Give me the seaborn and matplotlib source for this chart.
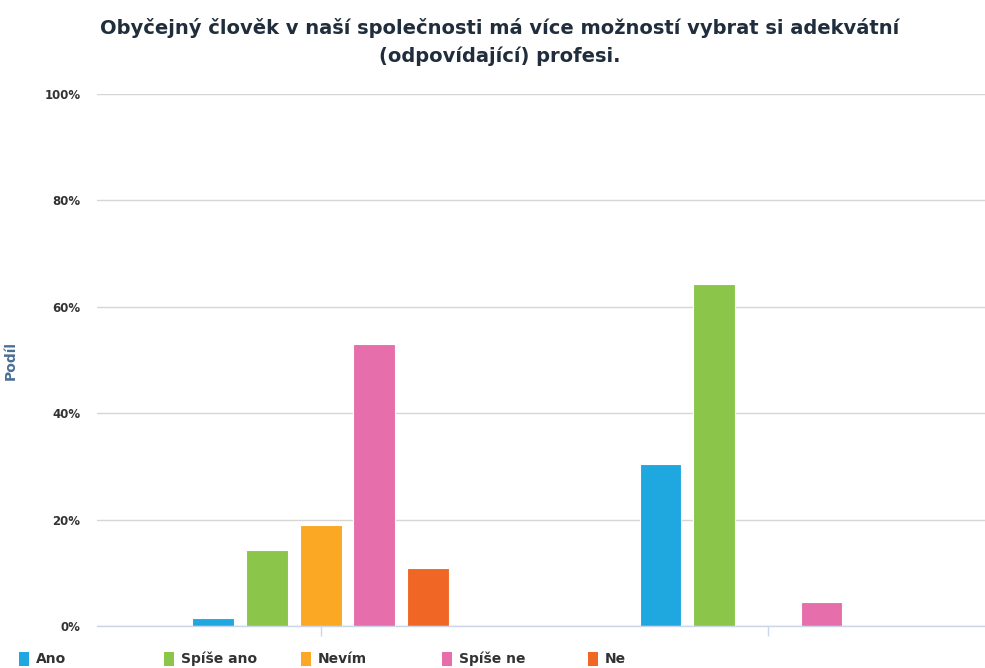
import matplotlib
matplotlib.use("Agg")
import matplotlib.pyplot as plt
import seaborn as sns
import pandas as pd
from matplotlib.patches import Patch

# answer categories and the two (unlabelled) groups
answers = ["Ano", "Spíše ano", "Nevím", "Spíše ne", "Ne"]
groups = ["Skupina 1", "Skupina 2"]
share_g1 = [1.5, 14.3, 19.0, 53.0, 10.9]
share_g2 = [30.5, 64.2, 0.0, 4.5, 0.0]
colors = ["#1fa8e0", "#8bc54a", "#fba824", "#e66fab", "#f06725"]
yticks = [0, 20, 40, 60, 80, 100]

df = pd.DataFrame({
    "skupina": [groups[0]] * 5 + [groups[1]] * 5,
    "odpoved": answers * 2,
    "podil": share_g1 + share_g2,
})

sns.set_style("white")
plt.rcParams["font.family"] = ["DejaVu Sans"]

fig = plt.figure(figsize=(9.85, 6.68), dpi=100)
ax = fig.add_axes([97 / 985, 1 - 626 / 668, (991.5 - 97) / 985, (626 - 94) / 668])

sns.barplot(data=df, x="skupina", y="podil", hue="odpoved", hue_order=answers,
            palette=colors, saturation=1, width=0.6, gap=0.22, edgecolor="white",
            linewidth=0.8, legend=False, ax=ax)

ax.set_xlim(-0.5, 1.5)
ax.set_ylim(0, 100)
ax.set_yticks(yticks)
ax.set_yticklabels([f"{v}%" for v in yticks], fontsize=8.5, fontweight="bold", color="#333333")
ax.yaxis.grid(True, color="#d6d6d6", linewidth=1)
ax.set_axisbelow(True)
for s in ["top", "right", "left"]:
    ax.spines[s].set_visible(False)
ax.spines["bottom"].set_color("#ccd6eb")
ax.spines["bottom"].set_linewidth(1)
ax.tick_params(axis="y", length=0, pad=12)
ax.tick_params(axis="x", direction="out", length=7, width=1, color="#ccd6eb",
               bottom=True, labelbottom=False)
ax.set_xlabel("")
ax.set_ylabel("Podíl", fontsize=10, fontweight="bold", color="#4a6f95")
ax.yaxis.set_label_coords(-0.089, 0.5)

fig.text(0.507, 0.937, "Obyčejný člověk v naší společnosti má více možností vybrat si adekvátní\n(odpovídající) profesi.",
         ha="center", va="center", fontsize=14, fontweight="bold", color="#1f2d3d",
         linespacing=1.6)

# legend items placed one by one, as in the reference
legend_x = [18, 163, 300, 441, 587]
for lab, c, x in zip(answers, colors, legend_x):
    leg = fig.legend([Patch(facecolor=c, edgecolor="none")], [lab], loc="center left",
                     bbox_to_anchor=(x / 985 - 0.012, 1 - 659 / 668), frameon=False,
                     handlelength=0.75, handleheight=1.2, handletextpad=0.5,
                     prop={"size": 10, "weight": "bold"})
    leg.get_texts()[0].set_color("#333333")

fig.savefig("out.png", dpi=100)
